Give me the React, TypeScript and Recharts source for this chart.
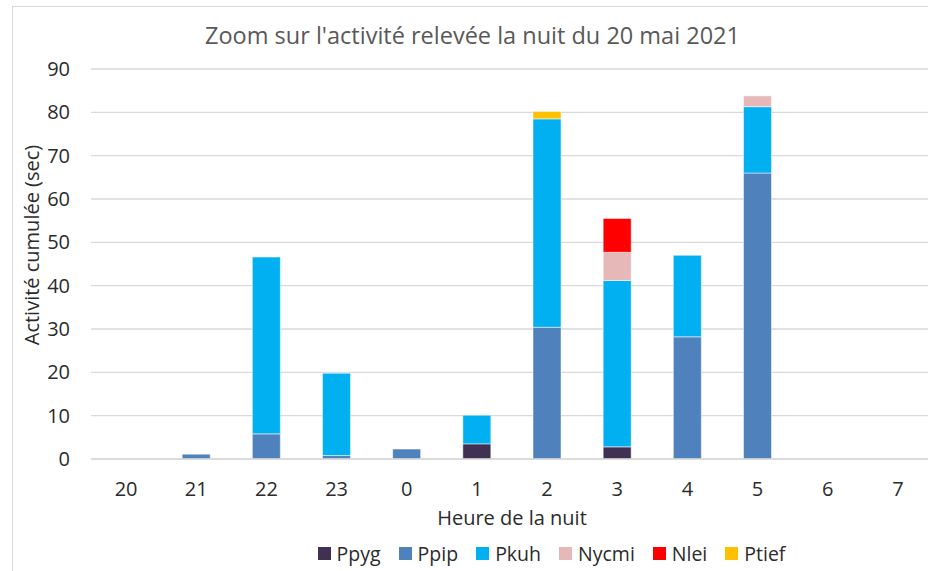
import React from "react";
import { BarChart, Bar, XAxis, YAxis, CartesianGrid, Legend, Label } from "recharts";

const hours = ["20", "21", "22", "23", "0", "1", "2", "3", "4", "5", "6", "7"];
const ppyg = [0, 0, 0, 0, 0, 3.5, 0, 2.8, 0, 0, 0, 0];
const ppip = [0, 1.1, 5.8, 0.8, 2.3, 0, 30.4, 0, 28.2, 66.0, 0, 0];
const pkuh = [0, 0, 40.8, 19.0, 0, 6.6, 48.1, 38.4, 18.8, 15.3, 0, 0];
const nycmi = [0, 0, 0, 0, 0, 0, 0, 6.5, 0, 2.5, 0, 0];
const nlei = [0, 0, 0, 0, 0, 0, 0, 7.8, 0, 0, 0, 0];
const ptief = [0, 0, 0, 0, 0, 0, 1.7, 0, 0, 0, 0, 0];
const yTicks = [0, 10, 20, 30, 40, 50, 60, 70, 80, 90];

const series = [
  { key: "Ppyg", values: ppyg, color: "#403152" },
  { key: "Ppip", values: ppip, color: "#4f81bd" },
  { key: "Pkuh", values: pkuh, color: "#00b0f0" },
  { key: "Nycmi", values: nycmi, color: "#e6b9b8" },
  { key: "Nlei", values: nlei, color: "#ff0000" },
  { key: "Ptief", values: ptief, color: "#ffc000" },
];

const data = hours.map((h, i) => {
  const row: Record<string, any> = { hour: h };
  for (const s of series) row[s.key] = s.values[i];
  return row;
});

const FONT = "'Open Sans', sans-serif";
const TEXT = "#2b2b2b";

function LegendContent() {
  return (
    <div style={{ display: "flex", justifyContent: "center", height: 26, alignItems: "center", fontFamily: FONT, fontSize: 19.5, color: TEXT, paddingLeft: 188 }}>
      {series.map(s => (
        <div key={s.key} style={{ display: "flex", alignItems: "center", marginRight: 18 }}>
          <span style={{ width: 13, height: 13, background: s.color, marginRight: 6, display: "inline-block" }} />
          <span>{s.key}</span>
        </div>
      ))}
    </div>
  );
}

export default function App() {
  return (
    <div style={{ position: "absolute", left: 0, top: 0, width: 928, height: 571, overflow: "hidden", background: "#fff" }}>
      <div style={{ position: "absolute", left: 12, top: 6, width: 930, height: 570, border: "1px solid #d9d9d9", boxSizing: "border-box" }} />
      <div style={{ position: "absolute", left: 0, width: 945, top: 19, textAlign: "center", fontFamily: FONT, fontSize: 23.5, color: "#595959" }}>
        Zoom sur l'activité relevée la nuit du 20 mai 2021
      </div>
      <BarChart width={940} height={571} data={data} margin={{ top: 69, right: 7, bottom: 5, left: 0 }} barSize={28}>
        <CartesianGrid vertical={false} stroke="#d9d9d9" strokeWidth={1.3} />
        <XAxis dataKey="hour" axisLine={{ stroke: "#d9d9d9", strokeWidth: 1.3 }} tickLine={false} height={81} tickMargin={17}
          tick={{ fontFamily: FONT, fontSize: 20, fill: TEXT }}>
          <Label value="Heure de la nuit" position="insideTop" offset={52} style={{ fontFamily: FONT, fontSize: 20, fill: TEXT }} />
        </XAxis>
        <YAxis domain={[0, 90]} ticks={yTicks} width={91} axisLine={false} tickLine={false} tickMargin={15}
          tick={{ fontFamily: FONT, fontSize: 20, fill: TEXT }}>
          <Label content={(props: any) => {
            const vb = props.viewBox;
            const cx = vb.x + 31;
            const cy = vb.y + vb.height / 2 - 19;
            return (
              <text x={cx} y={cy} transform={`rotate(-90 ${cx} ${cy})`} textAnchor="middle" dominantBaseline="central"
                style={{ fontFamily: FONT, fontSize: 20, fill: TEXT }}>Activité cumulée (sec)</text>
            );
          }} />
        </YAxis>
        <Legend verticalAlign="bottom" content={() => <LegendContent />} />
        {series.map(s => (
          <Bar key={s.key} dataKey={s.key} stackId="a" fill={s.color} isAnimationActive={false} stroke="#ffffff" strokeWidth={0.5} />
        ))}
      </BarChart>
    </div>
  );
}
